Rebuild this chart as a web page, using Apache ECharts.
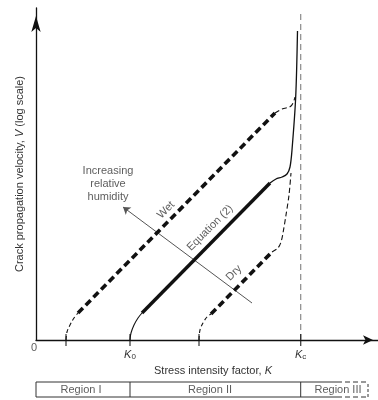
<!DOCTYPE html>
<html><head><meta charset="utf-8">
<script src="https://cdn.jsdelivr.net/npm/echarts@6/dist/echarts.min.js"></script>
<style>html,body{margin:0;padding:0;background:#fff}#c{width:378px;height:400px}</style>
</head><body><div id="c"></div>
<script>
// ---- data (schematic units: K along x, log V along y) ----
const X_MAX = 34.2;
const Y_MAX = 33.2;
const K0 = 9.4;
const KC = 26.47;
const tickValues = [3.0, 9.4, 16.3, 26.47];
const kLabels = ['0', 'c'];            // subscripts for K0, Kc

const wetTail   = [[3.0,0],[3.1,0.8],[3.4,1.5],[3.8,2.2],[4.2,2.7]];
const wetLinear = [[4.2,2.7],[23.9,22.7]];
const wetTop    = [[23.9,22.7],[24.6,23.1],[25.5,23.4],[25.9,24.3]];

const eqTail    = [[9.4,0],[9.5,0.7],[9.8,1.5],[10.2,2.2],[10.6,2.7]];
const eqLinear  = [[10.6,2.7],[23.4,15.7]];
const criticalRise = [[23.4,15.7],[24.0,16.1],[24.6,16.3],[25.1,16.6],[25.4,17.3],[25.6,19.0],[25.97,24.3],[26.15,30.9]];

const dryTail   = [[16.3,0],[16.4,1.0],[16.7,1.7],[17.1,2.3],[17.5,2.6]];
const dryLinear = [[17.5,2.6],[23.6,8.8]];
const dryTop    = [[23.6,8.8],[24.2,9.2],[24.5,9.8],[24.7,10.7],[25.0,12.5],[25.3,14.5],[25.5,16.7]];

const kcLine = [[26.47,0],[26.47,33.0]];
const humidityArrow = [[21.6,3.7],[8.7,13.3]];

const noteTexts  = ['Increasing\nrelative\nhumidity', 'Wet', 'Equation (2)', 'Dry'];
const notePos    = [[7.2,15.6],[13.0,13.0],[17.4,11.2],[19.8,6.7]];
const noteRotate = [0, 45, 45, 45];

const regionNames   = ['Region I', 'Region II', 'Region III'];
const regionCenters = [4.5, 17.4, 30.2];
const regionEdges   = [0, 9.4, 26.47];
const regionSolidEnd = 30.1;
const regionDashEnd  = 33.3;
const regionDashSide = 33.2;

// ---- chart ----
const FONT = '"Liberation Sans", Arial, sans-serif';
const FS = 11;
const TXT = '#333';
const INK = '#111';

function ln(data, width, dash, color, smooth, gi) {
  return {
    type: 'line', data: data, xAxisIndex: gi || 0, yAxisIndex: gi || 0,
    showSymbol: false, symbol: 'none', smooth: smooth || false, clip: false, silent: true,
    lineStyle: { color: color || INK, width: width, type: dash || 'solid', cap: 'butt' }
  };
}

const chart = echarts.init(document.getElementById('c'), null, { renderer: 'canvas' });

const series = [
  ln(kcLine, 1.2, [6,4], '#8a8a8a'),
  ln(wetTail, 1.1, [4,3], INK, 0.4),
  ln(wetLinear, 3.6, [7,4]),
  ln(wetTop, 1.1, [5,3], INK, 0.4),
  ln(eqTail, 1.1, 'solid', INK, 0.4),
  ln(eqLinear, 3.4, 'solid'),
  ln(criticalRise, 1.3, 'solid', INK, 0.3),
  ln(dryTail, 1.1, [4,3], INK, 0.4),
  ln(dryLinear, 3.6, [7,4]),
  ln(dryTop, 1.1, [5,3], INK, 0.3),
  {
    type: 'lines', coordinateSystem: 'cartesian2d', polyline: false, silent: true,
    symbol: ['none', 'arrow'], symbolSize: 7,
    lineStyle: { color: '#555', width: 1, opacity: 1 },
    data: [{ coords: humidityArrow }]
  },
  {
    type: 'scatter', data: tickValues.map(v => [v, 0]), symbol: 'rect', symbolSize: [1.3, 12],
    itemStyle: { color: INK }, clip: false, silent: true, z: 5
  },
  {
    type: 'scatter', clip: false, silent: true, symbolSize: 0,
    data: noteTexts.map((t, i) => ({
      value: notePos[i],
      label: { show: true, position: 'inside', formatter: t, rotate: noteRotate[i],
               fontFamily: FONT, fontSize: FS, color: TXT, lineHeight: 13 }
    })).concat([{
      value: [-0.2, -0.8],
      label: { show: true, position: 'inside', formatter: '0', fontFamily: FONT, fontSize: FS, color: TXT }
    }])
  }
];

// region boxes in second grid
series.push(ln([[0,1],[regionSolidEnd,1]], 1, 'solid', '#333', false, 1));
series.push(ln([[0,0],[regionSolidEnd,0]], 1, 'solid', '#333', false, 1));
series.push(ln([[regionSolidEnd,1],[regionDashEnd,1]], 1, [5,3], '#333', false, 1));
series.push(ln([[regionSolidEnd,0],[regionDashEnd,0]], 1, [5,3], '#333', false, 1));
series.push(ln([[regionDashSide,0],[regionDashSide,1]], 1, [3,2], '#333', false, 1));
regionEdges.forEach(e => series.push(ln([[e,0],[e,1]], 1, 'solid', '#333', false, 1)));
series.push({
  type: 'scatter', xAxisIndex: 1, yAxisIndex: 1, clip: false, silent: true, symbolSize: 0,
  data: regionNames.map((n, i) => ({
    value: [regionCenters[i], 0.47],
    label: { show: true, position: 'inside', formatter: n, fontFamily: FONT, fontSize: FS, color: TXT }
  }))
});

const option = {
  animation: false,
  backgroundColor: '#fff',
  grid: [
    { left: 36, right: 0, top: 8, bottom: 60 },
    { left: 36, right: 0, top: 382, height: 15 }
  ],
  xAxis: [
    {
      type: 'value', min: 0, max: X_MAX, gridIndex: 0,
      axisLine: { show: true, onZero: false, symbol: ['none', 'arrow'], symbolSize: [7, 10], symbolOffset: [0, -5],
                  lineStyle: { color: INK, width: 1.3 } },
      axisTick: { show: false }, splitLine: { show: false },
      axisLabel: {
        customValues: [K0, KC], margin: 8,
        formatter: v => '{k|K}{s|' + (v === K0 ? kLabels[0] : kLabels[1]) + '}',
        rich: {
          k: { fontFamily: FONT, fontSize: FS, fontStyle: 'italic', color: TXT },
          s: { fontFamily: FONT, fontSize: 8, color: TXT, padding: [5, 0, 0, 0] }
        }
      },
      name: '{n|Stress intensity factor, }{i|K}', nameLocation: 'middle', nameGap: 18,
      nameTextStyle: {
        padding: [0, 0, 0, 12],
        rich: {
          n: { fontFamily: FONT, fontSize: FS, color: TXT },
          i: { fontFamily: FONT, fontSize: FS, color: TXT, fontStyle: 'italic' }
        }
      }
    },
    { type: 'value', min: 0, max: X_MAX, gridIndex: 1, show: false }
  ],
  yAxis: [
    {
      type: 'value', min: 0, max: Y_MAX, gridIndex: 0,
      axisLine: { show: true, onZero: false, symbol: ['none', 'arrow'], symbolSize: [7, 16], symbolOffset: [0, -8],
                  lineStyle: { color: INK, width: 1.3 } },
      axisTick: { show: false }, axisLabel: { show: false }, splitLine: { show: false },
      name: '{n|Crack propagation velocity, }{i|V}{n| (log scale)}', nameLocation: 'middle', nameGap: 11,
      nameTextStyle: {
        rich: {
          n: { fontFamily: FONT, fontSize: FS, color: TXT },
          i: { fontFamily: FONT, fontSize: FS, color: TXT, fontStyle: 'italic' }
        }
      }
    },
    { type: 'value', min: 0, max: 1, gridIndex: 1, show: false }
  ],
  series: series
};
chart.setOption(option);
</script>
</body></html>
